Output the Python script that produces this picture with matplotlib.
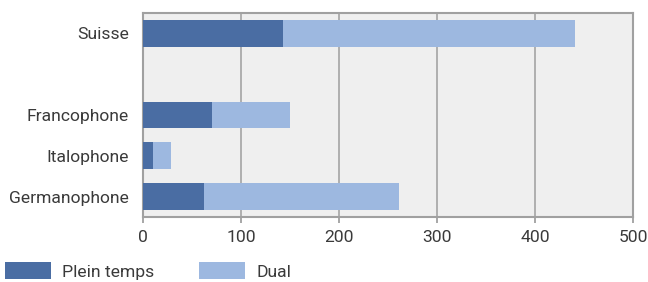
import matplotlib.pyplot as plt

plt.rcParams['font.family'] = ['Roboto', 'DejaVu Sans']

categories = ['Germanophone', 'Italophone', 'Francophone', 'Suisse']
positions = [0, 1, 2, 4]
plein_temps = [62, 10, 70, 143]
dual = [199, 19, 80, 298]

dark = '#4a6da3'
light = '#9db8e0'

fig = plt.figure(figsize=(6.48, 2.82), dpi=100)
ax = fig.add_axes([143/648, 1 - 217/282, 490/648, 204/282])
ax.set_facecolor('#efefef')

ax.barh(positions, plein_temps, height=0.66, color=dark, label='Plein temps', zorder=3)
ax.barh(positions, dual, left=plein_temps, height=0.66, color=light, label='Dual', zorder=3)

ax.set_xlim(0, 500)
ax.set_ylim(-0.5, 4.5)
ax.set_xticks([0, 100, 200, 300, 400, 500])
ax.set_yticks(positions)
ax.set_yticklabels(categories)
ax.xaxis.grid(True, color='#aaaaaa', linewidth=1.3, zorder=0)
ax.set_axisbelow(True)
for s in ax.spines.values():
    s.set_color('#a0a0a0')
    s.set_linewidth(1.5)
ax.tick_params(axis='x', colors='#a0a0a0', length=4, width=1.3, labelcolor='#3a3a3a', labelsize=12.6, pad=5)
ax.tick_params(axis='y', length=0, labelcolor='#3a3a3a', labelsize=12.6, pad=10)

fig.legend(loc='upper left', bbox_to_anchor=(5/648, 1 - 262/282), ncol=2, frameon=False,
           fontsize=12.6, handlelength=2.65, handleheight=1.15, handletextpad=0.62,
           columnspacing=2.55, borderpad=0, borderaxespad=0, labelcolor='#3a3a3a')

fig.savefig('out.png', dpi=100)
